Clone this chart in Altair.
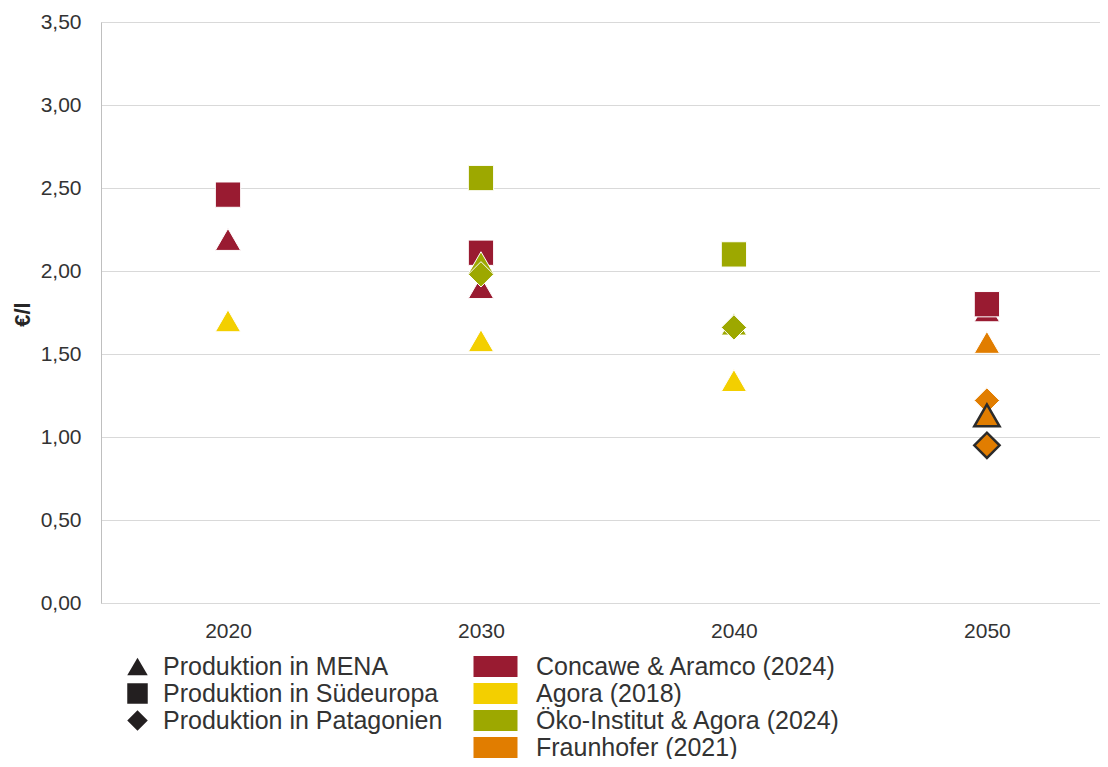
import altair as alt
import pandas as pd

# ---- data ----
years = [2020, 2020, 2020,
         2030, 2030, 2030, 2030, 2030, 2030,
         2040, 2040, 2040, 2040,
         2050, 2050, 2050, 2050, 2050, 2050]
sources = ["Concawe & Aramco (2024)", "Concawe & Aramco (2024)", "Agora (2018)",
           "Öko-Institut & Agora (2024)", "Concawe & Aramco (2024)", "Öko-Institut & Agora (2024)",
           "Concawe & Aramco (2024)", "Öko-Institut & Agora (2024)", "Agora (2018)",
           "Öko-Institut & Agora (2024)", "Öko-Institut & Agora (2024)", "Öko-Institut & Agora (2024)",
           "Agora (2018)",
           "Concawe & Aramco (2024)", "Concawe & Aramco (2024)", "Fraunhofer (2021)",
           "Fraunhofer (2021)", "Fraunhofer (2021)", "Fraunhofer (2021)"]
regions = ["Produktion in Südeuropa", "Produktion in MENA", "Produktion in MENA",
           "Produktion in Südeuropa", "Produktion in Südeuropa", "Produktion in MENA",
           "Produktion in MENA", "Produktion in Patagonien", "Produktion in MENA",
           "Produktion in Südeuropa", "Produktion in MENA", "Produktion in Patagonien",
           "Produktion in MENA",
           "Produktion in MENA", "Produktion in Südeuropa", "Produktion in MENA",
           "Produktion in Patagonien", "Produktion in MENA", "Produktion in Patagonien"]
values = [2.46, 2.19, 1.70,
          2.56, 2.11, 2.05, 1.90, 1.98, 1.58,
          2.10, 1.68, 1.66, 1.34,
          1.76, 1.80, 1.57, 1.22, 1.13, 0.95]
outlined = [0, 0, 0,
            0, 0, 0, 0, 0, 0,
            0, 0, 0, 0,
            0, 0, 0, 0, 1, 1]

region_order = ["Produktion in MENA", "Produktion in Südeuropa", "Produktion in Patagonien"]
region_shapes = ["triangle-up", "square", "diamond"]
source_order = ["Concawe & Aramco (2024)", "Agora (2018)",
                "Öko-Institut & Agora (2024)", "Fraunhofer (2021)"]
source_colors = ["#991b31", "#f3cf00", "#9da800", "#e17d00"]
x_ticks = [2020, 2030, 2040, 2050]
y_ticks = [0, 0.5, 1, 1.5, 2, 2.5, 3, 3.5]
x_domain = [2014.98, 2054.47]

df = pd.DataFrame({"year": years, "source": sources, "region": regions,
                   "value": values, "outlined": outlined})
df["z"] = range(len(df))

FONT = "Liberation Sans"
TXT = "#333333"

x_enc = alt.X("year:Q", scale=alt.Scale(domain=x_domain, nice=False, zero=False),
              axis=alt.Axis(values=x_ticks, format="d", title=None, domain=False,
                            ticks=False, grid=False, labelAngle=0, labelFontSize=21,
                            labelPadding=17, labelColor=TXT, labelFont=FONT))
y_enc = alt.Y("value:Q", scale=alt.Scale(domain=[0, 3.5], nice=False, zero=True),
              axis=alt.Axis(values=y_ticks, title="€/l", titleFontSize=22,
                            titleFontWeight="bold", titleColor="#262626", titleFont=FONT,
                            titleAngle=270, titleX=-79, titleY=292,
                            titleAlign="center", titleBaseline="middle",
                            domain=True, domainColor="#bfbfbf", domainWidth=1,
                            ticks=False, gridColor="#d9d9d9", gridWidth=1,
                            labelFontSize=21, labelPadding=20, labelColor=TXT,
                            labelFont=FONT,
                            labelExpr="replace(format(datum.value, '.2f'), '.', ',')"))

color_enc = alt.Color("source:N", scale=alt.Scale(domain=source_order, range=source_colors),
                      legend=alt.Legend(title=None, orient="none", legendX=382, legendY=632,
                                        symbolType="M-2,-0.95L2,-0.95L2,0.95L-2,0.95Z",
                                        symbolSize=484, symbolStrokeWidth=0,
                                        symbolOpacity=1, labelFontSize=25,
                                        labelColor=TXT, labelFont=FONT, labelLimit=600,
                                        labelOffset=28, rowPadding=1))
shape_enc = alt.Shape("region:N", scale=alt.Scale(domain=region_order, range=region_shapes),
                      legend=alt.Legend(title=None, orient="none", legendX=24, legendY=632,
                                        symbolFillColor="#231f20", symbolStrokeWidth=0,
                                        symbolSize=420, symbolOpacity=1,
                                        labelFontSize=25, labelColor=TXT, labelFont=FONT,
                                        labelLimit=600, labelOffset=13, rowPadding=1))

base = alt.Chart(df)
points = base.transform_filter("datum.outlined == 0").mark_point(
    filled=True, size=640, opacity=1, stroke="white", strokeWidth=1
).encode(x=x_enc, y=y_enc, color=color_enc, shape=shape_enc,
         order=alt.Order("z:Q"))
outl = base.transform_filter("datum.outlined == 1").mark_point(
    filled=True, size=640, opacity=1, stroke="#2b2b2b", strokeWidth=2.5
).encode(x=x_enc, y=y_enc, color=color_enc, shape=shape_enc,
         order=alt.Order("z:Q"))

chart = alt.layer(points, outl).properties(
    width=999, height=581,
    autosize=alt.AutoSizeParams(type="none"),
    padding={"left": 93, "top": 14, "right": 0, "bottom": 156},
).configure_view(stroke=None).configure(font=FONT)

chart.save("out.html", embed_options={"renderer": "svg", "actions": False})
